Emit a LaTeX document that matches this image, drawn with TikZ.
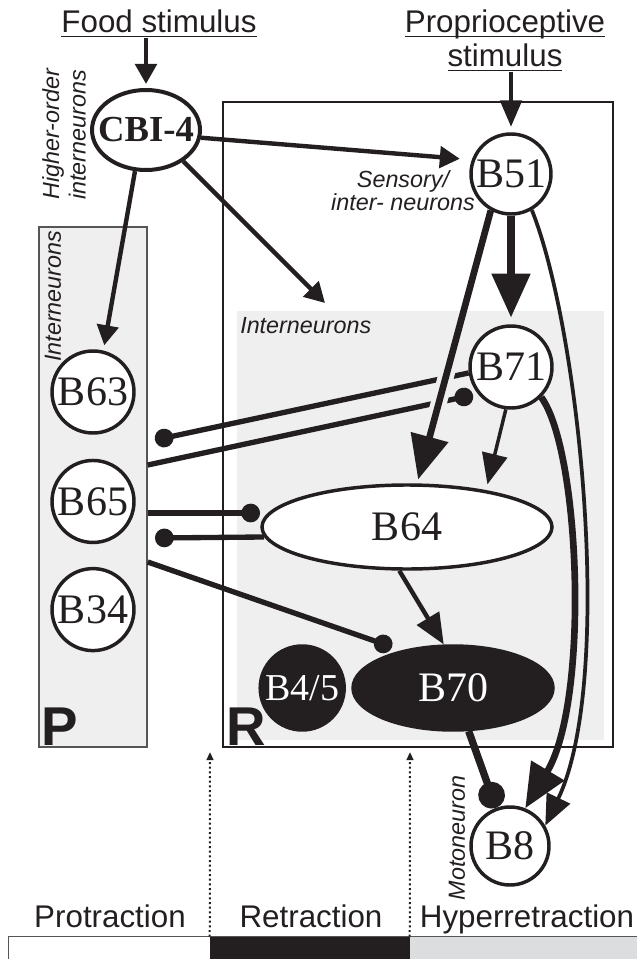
\documentclass[tikz,border=0pt]{standalone}
\usepackage{fontspec}
\setmainfont{Liberation Sans}
\newfontfamily\nfont{Liberation Serif}
\usetikzlibrary{arrows.meta, positioning, fit, shapes.geometric}

\definecolor{inkblack}{HTML}{231F20}
\definecolor{panelgray}{HTML}{EFEFEF}
\definecolor{hypergray}{HTML}{DCDDDF}
\definecolor{boxline}{HTML}{555555}

\newlength\ulen
\newcommand\ulined[1]{\settowidth\ulen{#1}\rlap{\rule[-3.2pt]{\ulen}{1.3pt}}#1}

\tikzset{
  neuron/.style={
    circle, draw=inkblack, line width=2.6pt, fill=white, inner sep=0pt,
    minimum size=#1, font=\nfont\fontsize{31.5}{32}\selectfont
  },
  neuron/.default=61.5pt,
  oval/.style={
    ellipse, draw=inkblack, line width=2.6pt, fill=white, inner sep=0pt,
    font=\nfont\fontsize{31.5}{32}\selectfont
  },
  darkoval/.style={oval, fill=inkblack, text=white},
  panel/.style={rectangle, inner sep=0pt, draw=boxline, line width=1.1pt, fill=panelgray},
  regionbox/.style={rectangle, inner sep=0pt, draw=inkblack, line width=1pt},
  stim/.style={font=\fontsize{23.5}{25.5}\selectfont, align=center, inner sep=0pt},
  tag/.style={font=\itshape\fontsize{17.5}{20}\selectfont, align=center, inner sep=0pt},
  phase/.style={font=\fontsize{23.5}{25.5}\selectfont, inner sep=0pt, anchor=base},
  biglabel/.style={font=\bfseries\fontsize{41}{41}\selectfont, inner sep=0pt, anchor=base west},
  smallhead/.style={-{Triangle[length=15pt,width=16pt]}, line width=3.3pt},
  midhead/.style={-{Triangle[length=23pt,width=19pt]}},
  bighead/.style={-{Triangle[length=33pt,width=28pt]}},
  inhib/.style={-{Circle[length=14pt]}, line width=4pt},
  phasearrow/.style={dotted, line width=1.5pt, -{Triangle[length=6pt,width=5pt]}}
}

\begin{document}
\begin{tikzpicture}[x=0.75pt, y=-0.75pt, color=inkblack]
  \useasboundingbox (0,0) rectangle (636,959);

  % Boxes
  \node[regionbox, fit={(223,102)(613,747)}] (rbox) {};
  \node[panel, draw=none, fit={(237,311)(604,740)}] (innerbox) {};
  \node[panel, fit={(39,227)(147,747)}] (pbox) {};

  % Labels
  \node[stim, anchor=base] (food) at (159,33) {\ulined{Food stimulus}};
  \node[stim, anchor=base] (proprio) at (505,67) {\ulined{Proprioceptive}\\\ulined{stimulus}};
  \node[tag, rotate=90, anchor=west, align=left] (higher) at (64,200) {Higher-order\\interneurons};
  \node[tag, rotate=90, anchor=west] (pint) at (53,362) {Interneurons};
  \node[tag, anchor=west] (rint) at (240,326) {Interneurons};
  \node[tag, font=\itshape\fontsize{17.5}{14.5}\selectfont] (sensory) at (403,191) {Sensory/\\inter- neurons};
  \node[tag, rotate=90] (moto) at (457,838) {Motoneuron};
  \node[biglabel] (plabel) at (41,745) {P};
  \node[biglabel] (rlabel) at (226,745) {R};

  % Neurons
  \node[oval, minimum width=81pt, minimum height=60pt, line width=3pt,
        font=\nfont\bfseries\fontsize{27.5}{28}\selectfont] (CBI) at (146,130) {\makebox[0pt]{CBI-4}};
  \node[neuron=60pt] (B51) at (511,174) {B51};
  \node[neuron] (B71) at (511,367) {B71};
  \node[oval, minimum width=217.5pt, minimum height=63pt] (B64) at (407,527) {B64};
  \node[darkoval, minimum width=150pt, minimum height=63pt] (B70) at (453,688) {B70};
  \node[neuron=63pt, fill=inkblack, text=white, font=\nfont\fontsize{28.5}{29}\selectfont,
        left=4pt of B70] (B45) {B4/5};
  \node[neuron=58.5pt] (B8) at (510,846) {B8};
  \node[neuron] (B63) at (93,392) {B63};
  \node[neuron, below=18pt of B63] (B65) {B65};
  \node[neuron, below=17pt of B65] (B34) {B34};

  % Free ends
  \coordinate (intTarget) at (325,303);
  \coordinate (dotP) at (155,440);
  \coordinate (fromPa) at (pbox.east |- 0,465);
  \coordinate (dotB71) at (473,395);
  \coordinate (fromPb) at (pbox.east |- 0,513);
  \coordinate (dotB64) at (260,513);
  \coordinate (dotPc) at (155,538);
  \coordinate (fromPc) at (pbox.east |- 0,562);
  \coordinate (dotB70) at (392,647);

  % Stimuli
  \draw[smallhead, shorten >=3pt] (CBI |- food.south) -- (CBI);
  \draw[smallhead, -{Triangle[length=20pt,width=16pt]}, shorten >=4pt] (B51 |- proprio.south) -- (B51);

  % Inhibitory links
  \draw[inhib] (B71.188) -- (dotP);
  \draw[inhib] (fromPa) -- (dotB71);
  \draw[inhib] (fromPb) -- (dotB64);
  \draw[inhib] (B64.184) -- (dotPc);
  \draw[inhib] (fromPc) -- (dotB70);
  \draw[inhib, line width=5.5pt, -{Circle[length=20pt]}] (B70.-70) -- (B8.110);

  % CBI-4 outputs
  \draw[smallhead, shorten >=9pt] (CBI.-8) -- (B51.160);
  \draw[smallhead] (CBI.-40) -- (intTarget);
  \draw[smallhead, shorten >=4pt] (CBI.-105) -- (B63.76);

  % B51 outputs
  \draw[bighead, line width=5.5pt, shorten >=5pt] (B51) -- (B71);
  \draw[bighead, line width=5pt, shorten >=3pt,
        preaction={draw=panelgray, line width=12pt, -, shorten <=110pt, shorten >=40pt}]
    (B51.-119) -- (B64.77);
  \draw[midhead, line width=2.8pt] (B51.-60) .. controls (580,330) and (615,680) .. (B8.30);

  % B71 and B64 outputs
  \draw[midhead, line width=2.6pt, shorten >=4.5pt] (B71.-97) -- (B64.25);
  \draw[bighead, line width=5pt] (B71.-45) .. controls (580,450) and (590,700) .. (B8.68);
  \draw[midhead, line width=3.3pt] (B64.-100) -- (B70.102);

  % Phase bar
  \node[fit={(9,937)(210,962)}, inner sep=0pt, fill=white] (protbar) {};
  \node[fit={(210,937)(410,962)}, inner sep=0pt, fill=inkblack] (retbar) {};
  \node[fit={(410,937)(640,962)}, inner sep=0pt, fill=hypergray] (hyperbar) {};
  \draw[boxline, line width=1.1pt] (protbar.south west) |- (hyperbar.north east);
  \node[phase] (prot) at (110,927) {Protraction};
  \node[phase] (retr) at (311,927) {Retraction};
  \node[phase] (hyper) at (527,927) {Hyperretraction};
  \coordinate (retTop) at (210,752);
  \coordinate (hyperTop) at (410,752);
  \draw[phasearrow] (retbar.north west) -- (retTop);
  \draw[phasearrow] (hyperbar.north west) -- (hyperTop);

\end{tikzpicture}
\end{document}
